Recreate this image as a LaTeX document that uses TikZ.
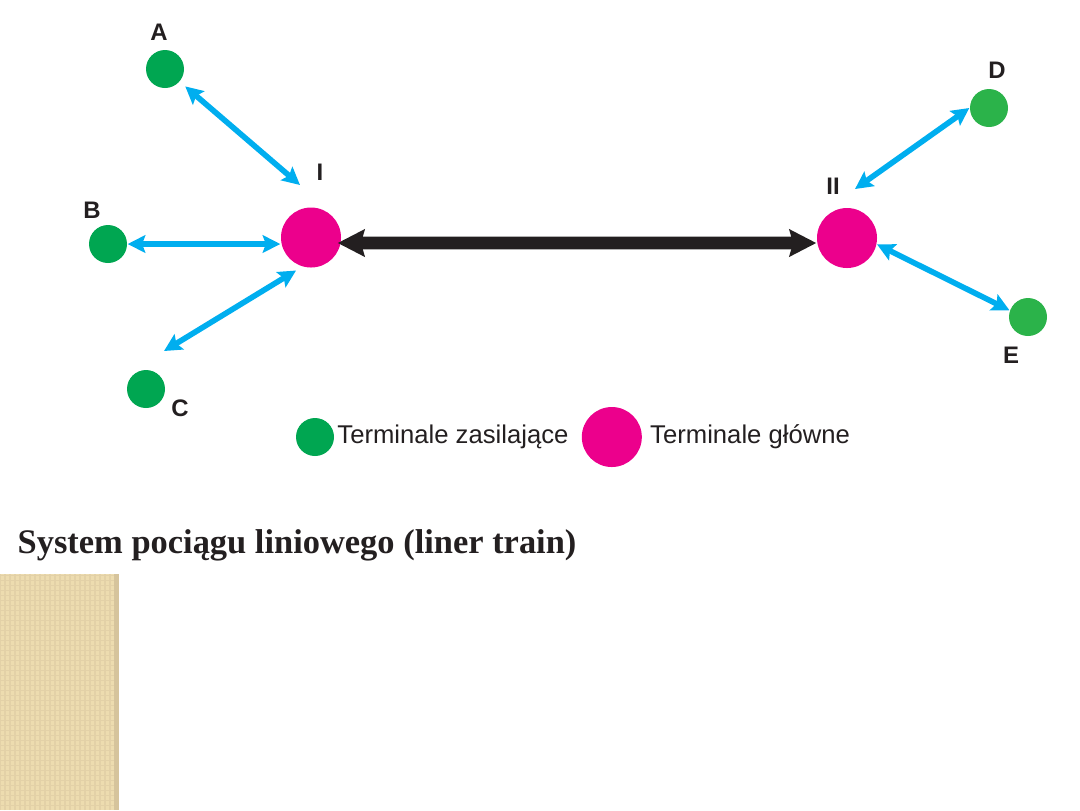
\documentclass[tikz,border=0pt]{standalone}
\usepackage{fontspec}
\setmainfont{Liberation Sans}
\newfontfamily\titlefont{Liberation Serif}
\usetikzlibrary{arrows.meta,positioning}
\definecolor{feedgreen}{RGB}{0,166,81}
\definecolor{feedgreenlt}{RGB}{43,179,74}
\definecolor{hubpink}{RGB}{236,0,140}
\definecolor{linkblue}{RGB}{0,174,239}
\definecolor{inkblack}{RGB}{35,31,32}
\definecolor{sand}{RGB}{237,220,175}
\definecolor{sanddark}{RGB}{214,196,156}

\begin{document}
\begin{tikzpicture}[
        feeder/.style={circle, fill=feedgreen, minimum size=0.38cm, inner sep=0pt},
        hub/.style={circle, fill=hubpink, minimum size=0.6cm, inner sep=0pt},
        termlabel/.style={font=\fontsize{6.8}{8}\selectfont\bfseries, text=inkblack, inner sep=0pt},
        legendtext/.style={font=\fontsize{7.3}{9}\selectfont, text=inkblack, inner sep=0pt},
        feedlink/.style={{Stealth[length=5pt, width=5pt, inset=0.9pt]}-{Stealth[length=5pt, width=5pt, inset=0.9pt]}, line width=1.6pt, draw=linkblue},
        trunk/.style={{Stealth[length=7.6pt, width=7.6pt, inset=1pt]}-{Stealth[length=7.6pt, width=7.6pt, inset=1pt]}, line width=3.6pt, draw=inkblack}
      ]
      \useasboundingbox (0,0) rectangle (10.8,-8.1);

      % terminals
      \node[hub] (I) at (3.11,-2.375) {};
      \node[hub] (II) at (8.47,-2.38) {};
      \node[feeder] (A) at (1.65,-0.69) {};
      \node[feeder] (B) at (1.08,-2.44) {};
      \node[feeder] (C) at (1.46,-3.89) {};
      \node[feeder, fill=feedgreenlt] (D) at (9.89,-1.08) {};
      \node[feeder, fill=feedgreenlt] (E) at (10.28,-3.17) {};

      \node[termlabel] (labA) at (1.59,-0.32) {A};
      \node[termlabel] (labB) at (0.92,-2.10) {B};
      \node[termlabel] (labC) at (1.80,-4.08) {C};
      \node[termlabel] (labD) at (9.97,-0.70) {D};
      \node[termlabel] (labE) at (10.11,-3.55) {E};
      \node[termlabel] (labI) at (3.20,-1.72) {I};
      \node[termlabel] (labII) at (8.33,-1.86) {II};

      % links
      \coordinate (aI) at (3.00,-1.85);
      \coordinate (cC) at (1.64,-3.51);
      \coordinate (dII) at (8.55,-1.89);
      \draw[feedlink, shorten <=0.07cm] (A) -- (aI);
      \draw[feedlink] (B) -- (B -| I.west);
      \draw[feedlink, shorten <=0.07cm] (I.253) -- (cC);
      \draw[feedlink] (D.west) -- (dII);
      \draw[feedlink] (II.-12) -- (E.160);
      \draw[trunk] ([yshift=-0.055cm,xshift=-0.04cm]I.east) -- ([yshift=-0.05cm]II.west);

      % legend
      \node[feeder] (keyfeed) at (3.15,-4.37) {};
      \node[legendtext, right=0.02cm of keyfeed] (keyfeedtxt) {Terminale zasilające};
      \node[hub, right=0.12cm of keyfeedtxt] (keyhub) {};
      \node[legendtext, right=0.07cm of keyhub] (keyhubtxt) {Terminale główne};

      % title and side panel
      \node[anchor=base west, inner sep=0pt, text=inkblack, font=\titlefont\bfseries\fontsize{9.8}{12}\selectfont] (title) at (0.17,-5.53) {System pociągu liniowego (liner train)};
      \fill[sand] (0,-5.74) rectangle (1.19,-8.1);
      \draw[sanddark!45!sand, line width=0.3pt, step=0.05] (0,-8.1) grid (1.14,-5.74);
      \fill[sanddark] (1.14,-5.74) rectangle (1.19,-8.1);
    \end{tikzpicture}
\end{document}
